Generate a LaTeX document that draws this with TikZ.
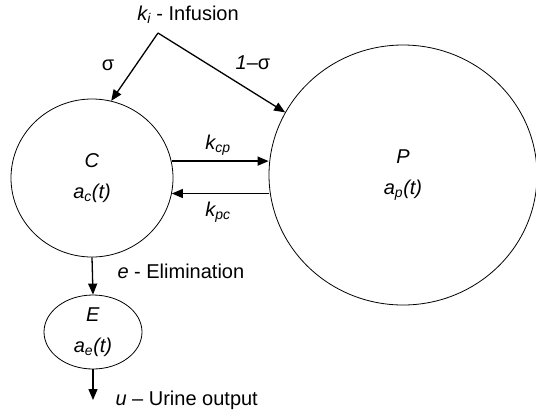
\documentclass[tikz,border=0pt]{standalone}
\usepackage{fontspec}
\setmainfont{Liberation Sans}
\usetikzlibrary{shapes.geometric,arrows.meta}

\begin{document}
\begin{tikzpicture}[x=1bp,y=-1bp,
   every node/.style={font=\fontsize{20bp}{24bp}\selectfont},
   comp/.style={draw, ellipse, line width=0.8bp, align=center, inner sep=0pt},
   flow/.style={-{Triangle[length=11bp,width=9bp]}, line width=1.3bp}]
\useasboundingbox (0,0) rectangle (536,413);

\node[comp, minimum width=162bp, minimum height=158bp] (C) at (92,178)
   {\textit{C}\\[7bp]\textit{a\textsubscript{c}(t)}};
\node[comp, minimum width=268bp, minimum height=260bp] (P) at (403,175)
   {\textit{P}\\[7bp]\textit{a\textsubscript{p}(t)}};
\node[comp, minimum width=98bp, minimum height=74bp] (E) at (93,332)
   {\textit{E}\\[7bp]\textit{a\textsubscript{e}(t)}};

\coordinate (ki) at (158,33);
\coordinate (uout) at (93,400);

\node (inf) at (188,15) {\textit{k\textsubscript{i}} - Infusion};
\node (sig) at (108,65) {σ};
\node (msig) at (253,63) {\textit{1}–σ};
\node (kcp) at (218,145) {\textit{k\textsubscript{cp}}};
\node (kpc) at (218,212) {\textit{k\textsubscript{pc}}};
\node[anchor=west] (elim) at (114,271) {\textit{e} - Elimination};
\node[anchor=west] (urine) at (112,400) {\textit{u} – Urine output};

\draw[flow] (ki) -- (C.76);
\draw[flow] (ki) -- (P.152);
\draw[flow] (C.12) -- (C.12 -| P.west);
\draw[flow] (C.-11 -| P.west) -- (C.-11);
\draw[flow] (C.south) -- (E.north);
\draw[flow] (E.south) -- (uout);
\end{tikzpicture}
\end{document}
